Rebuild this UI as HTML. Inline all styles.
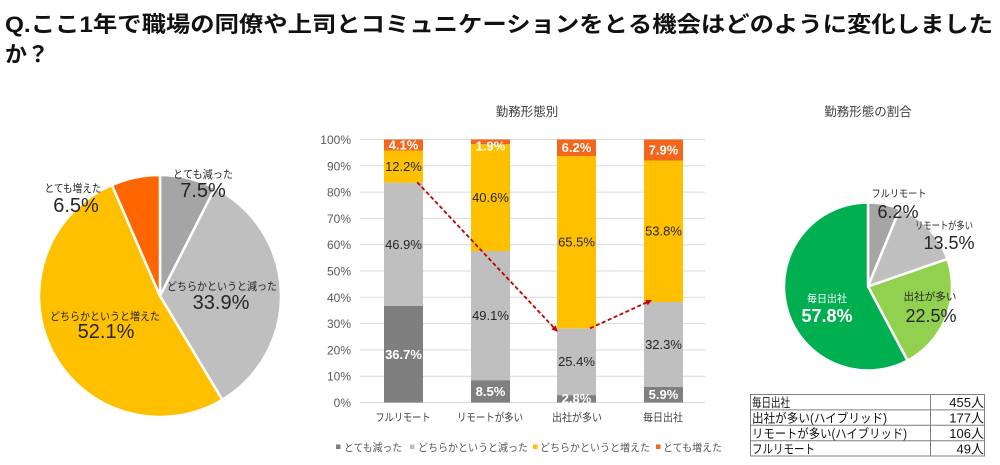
<!DOCTYPE html>
<html><head><meta charset="utf-8">
<style>
html,body{margin:0;padding:0;background:#fff;}
svg{display:block;}
.t{font-family:"Liberation Sans","Noto Sans CJK JP",sans-serif;}
</style></head>
<body>
<svg width="1000" height="465" viewBox="0 0 1000 465" xmlns="http://www.w3.org/2000/svg" class="t">
<rect width="1000" height="465" fill="#fff"/>
<!-- Title -->
<text x="5" y="32" font-size="22" font-weight="bold" fill="#111" textLength="988" lengthAdjust="spacingAndGlyphs">Q.ここ1年で職場の同僚や上司とコミュニケーションをとる機会はどのように変化しました</text>
<text x="5" y="62" font-size="22" font-weight="bold" fill="#111">か？</text>

<!-- Left pie -->
<g stroke="#fff" stroke-width="2.5" stroke-linejoin="round">
<path d="M160,296 L160,175 A121,121 0 0 1 214.93,188.19 Z" fill="#a5a5a5"/>
<path d="M160,296 L214.93,188.19 A121,121 0 0 1 222.24,399.76 Z" fill="#bfbfbf"/>
<path d="M160,296 L222.24,399.76 A121,121 0 1 1 111.95,184.95 Z" fill="#ffc000"/>
<path d="M160,296 L111.95,184.95 A121,121 0 0 1 160,175 Z" fill="#ff6600"/>
</g>
<g fill="#262626" text-anchor="middle">
<text x="203" y="178" font-size="11" textLength="60" lengthAdjust="spacingAndGlyphs">とても減った</text>
<text x="203" y="197" font-size="20">7.5%</text>
<text x="73" y="192" font-size="11" textLength="57" lengthAdjust="spacingAndGlyphs">とても増えた</text>
<text x="76" y="212" font-size="20">6.5%</text>
<text x="222" y="290" font-size="11" textLength="110" lengthAdjust="spacingAndGlyphs">どちらかというと減った</text>
<text x="221" y="309" font-size="20">33.9%</text>
<text x="105" y="320" font-size="11" textLength="110" lengthAdjust="spacingAndGlyphs">どちらかというと増えた</text>
<text x="106" y="338" font-size="20">52.1%</text>
</g>

<!-- Bar chart -->
<text x="527" y="116" font-size="12.5" fill="#404040" text-anchor="middle">勤務形態別</text>
<g stroke="#d9d9d9" stroke-width="1">
<line x1="360" y1="139.5" x2="705" y2="139.5"/>
<line x1="360" y1="165.8" x2="705" y2="165.8"/>
<line x1="360" y1="192.1" x2="705" y2="192.1"/>
<line x1="360" y1="218.4" x2="705" y2="218.4"/>
<line x1="360" y1="244.7" x2="705" y2="244.7"/>
<line x1="360" y1="271" x2="705" y2="271"/>
<line x1="360" y1="297.3" x2="705" y2="297.3"/>
<line x1="360" y1="323.6" x2="705" y2="323.6"/>
<line x1="360" y1="349.9" x2="705" y2="349.9"/>
<line x1="360" y1="376.2" x2="705" y2="376.2"/>
<line x1="360" y1="402.5" x2="705" y2="402.5"/>
</g>
<g font-size="12" fill="#595959" text-anchor="end">
<text x="351" y="144">100%</text>
<text x="351" y="170.3">90%</text>
<text x="351" y="196.6">80%</text>
<text x="351" y="222.9">70%</text>
<text x="351" y="249.2">60%</text>
<text x="351" y="275.5">50%</text>
<text x="351" y="301.8">40%</text>
<text x="351" y="328.1">30%</text>
<text x="351" y="354.4">20%</text>
<text x="351" y="380.7">10%</text>
<text x="351" y="407">0%</text>
</g>
<!-- bar1 -->
<rect x="384" y="305.98" width="39" height="96.52" fill="#7f7f7f"/>
<rect x="384" y="182.63" width="39" height="123.35" fill="#bfbfbf"/>
<rect x="384" y="150.55" width="39" height="32.08" fill="#ffc000"/>
<rect x="384" y="139.5" width="39" height="11.05" fill="#f4661b"/>
<!-- bar2 -->
<rect x="471" y="380.15" width="39" height="22.35" fill="#7f7f7f"/>
<rect x="471" y="251" width="39" height="129.15" fill="#bfbfbf"/>
<rect x="471" y="144.23" width="39" height="106.77" fill="#ffc000"/>
<rect x="471" y="139.5" width="39" height="4.73" fill="#f4661b"/>
<!-- bar3 -->
<rect x="557" y="395.14" width="39" height="7.36" fill="#7f7f7f"/>
<rect x="557" y="328.33" width="39" height="66.81" fill="#bfbfbf"/>
<rect x="557" y="156.07" width="39" height="172.26" fill="#ffc000"/>
<rect x="557" y="139.5" width="39" height="16.57" fill="#f4661b"/>
<!-- bar4 -->
<rect x="644" y="386.98" width="39" height="15.52" fill="#7f7f7f"/>
<rect x="644" y="302.03" width="39" height="84.95" fill="#bfbfbf"/>
<rect x="644" y="160.54" width="39" height="141.49" fill="#ffc000"/>
<rect x="644" y="139.5" width="39" height="21.04" fill="#f4661b"/>

<g font-size="13" text-anchor="middle">
<text x="403.5" y="359" fill="#fff" font-weight="bold">36.7%</text>
<text x="403.5" y="249" fill="#262626">46.9%</text>
<text x="403.5" y="171" fill="#262626">12.2%</text>
<text x="403.5" y="149.5" fill="#fff" font-weight="bold">4.1%</text>
<text x="490.5" y="396" fill="#fff" font-weight="bold">8.5%</text>
<text x="490.5" y="320" fill="#262626">49.1%</text>
<text x="490.5" y="202" fill="#262626">40.6%</text>
<text x="490.5" y="150.5" fill="#fff" font-weight="bold">1.9%</text>
<text x="576.5" y="403" fill="#fff" font-weight="bold">2.8%</text>
<text x="576.5" y="366" fill="#262626">25.4%</text>
<text x="576.5" y="246.5" fill="#262626">65.5%</text>
<text x="576.5" y="152" fill="#fff" font-weight="bold">6.2%</text>
<text x="663.5" y="399" fill="#fff" font-weight="bold">5.9%</text>
<text x="663.5" y="349" fill="#262626">32.3%</text>
<text x="663.5" y="235.5" fill="#262626">53.8%</text>
<text x="663.5" y="154.5" fill="#fff" font-weight="bold">7.9%</text>
</g>

<!-- arrows -->
<defs>
<marker id="ah" markerWidth="6" markerHeight="6" refX="5" refY="3" orient="auto" markerUnits="userSpaceOnUse">
<path d="M0,0 L6,3 L0,6 Z" fill="#c00000"/>
</marker>
</defs>
<line x1="417.3" y1="182.3" x2="557" y2="331" stroke="#c00000" stroke-width="1.8" stroke-dasharray="4,2.5" marker-end="url(#ah)"/>
<line x1="590" y1="328.3" x2="651" y2="300.5" stroke="#c00000" stroke-width="1.8" stroke-dasharray="4,2.5" marker-end="url(#ah)"/>

<g font-size="11" fill="#404040" text-anchor="middle">
<text x="403" y="421" textLength="55" lengthAdjust="spacingAndGlyphs">フルリモート</text>
<text x="490" y="421" textLength="66" lengthAdjust="spacingAndGlyphs">リモートが多い</text>
<text x="577" y="421" textLength="50" lengthAdjust="spacingAndGlyphs">出社が多い</text>
<text x="663" y="421" textLength="40" lengthAdjust="spacingAndGlyphs">毎日出社</text>
</g>
<!-- legend -->
<rect x="336" y="444.5" width="4.5" height="4.5" fill="#7f7f7f"/>
<rect x="410" y="444.5" width="4.5" height="4.5" fill="#bfbfbf"/>
<rect x="533" y="444.5" width="4.5" height="4.5" fill="#ffc000"/>
<rect x="656" y="444.5" width="4.5" height="4.5" fill="#f4661b"/>
<g font-size="10.5" fill="#595959">
<text x="344" y="451" textLength="58" lengthAdjust="spacingAndGlyphs">とても減った</text>
<text x="418" y="451" textLength="110" lengthAdjust="spacingAndGlyphs">どちらかというと減った</text>
<text x="540" y="451" textLength="110" lengthAdjust="spacingAndGlyphs">どちらかというと増えた</text>
<text x="663" y="451" textLength="59" lengthAdjust="spacingAndGlyphs">とても増えた</text>
</g>

<!-- Right pie -->
<text x="868" y="116" font-size="12.5" fill="#404040" text-anchor="middle">勤務形態の割合</text>
<g stroke="#fff" stroke-width="2.5" stroke-linejoin="round">
<path d="M868,286.5 L868,202.5 A84,84 0 0 1 899.9,208.79 Z" fill="#a5a5a5"/>
<path d="M868,286.5 L899.9,208.79 A84,84 0 0 1 947.39,259.04 Z" fill="#bfbfbf"/>
<path d="M868,286.5 L947.39,259.04 A84,84 0 0 1 907.54,360.61 Z" fill="#92d050"/>
<path d="M868,286.5 L907.54,360.61 A84,84 0 1 1 868,202.5 Z" fill="#00b050"/>
</g>
<g text-anchor="middle" fill="#262626">
<text x="899" y="197" font-size="10.5" textLength="55" lengthAdjust="spacingAndGlyphs">フルリモート</text>
<text x="898" y="218" font-size="18">6.2%</text>
<text x="944" y="229" font-size="10.5" textLength="58" lengthAdjust="spacingAndGlyphs">リモートが多い</text>
<text x="949" y="249" font-size="18">13.5%</text>
<text x="930" y="300" font-size="10.5" textLength="53" lengthAdjust="spacingAndGlyphs">出社が多い</text>
<text x="931" y="322" font-size="18">22.5%</text>
<text x="827" y="302" font-size="10.5" fill="#fff" textLength="40" lengthAdjust="spacingAndGlyphs">毎日出社</text>
<text x="827" y="322" font-size="18" fill="#fff" font-weight="bold">57.8%</text>
</g>

<!-- Table -->
<g stroke="#7f7f7f" stroke-width="1" fill="none">
<rect x="750.5" y="394.5" width="234" height="61.5"/>
<line x1="750.5" y1="409.9" x2="984.5" y2="409.9"/>
<line x1="750.5" y1="425.3" x2="984.5" y2="425.3"/>
<line x1="750.5" y1="440.7" x2="984.5" y2="440.7"/>
<line x1="930.5" y1="394.5" x2="930.5" y2="456"/>
</g>
<g font-size="12.5" fill="#111">
<text x="752" y="407" textLength="38" lengthAdjust="spacingAndGlyphs">毎日出社</text>
<text x="752" y="422.5" textLength="135" lengthAdjust="spacingAndGlyphs">出社が多い(ハイブリッド)</text>
<text x="752" y="438" textLength="155" lengthAdjust="spacingAndGlyphs">リモートが多い(ハイブリッド)</text>
<text x="752" y="453.5" textLength="63" lengthAdjust="spacingAndGlyphs">フルリモート</text>
</g>
<g font-size="13" fill="#111" text-anchor="end">
<text x="984" y="407">455人</text>
<text x="984" y="422.5">177人</text>
<text x="984" y="438">106人</text>
<text x="984" y="453.5">49人</text>
</g>
</svg>
</body></html>
